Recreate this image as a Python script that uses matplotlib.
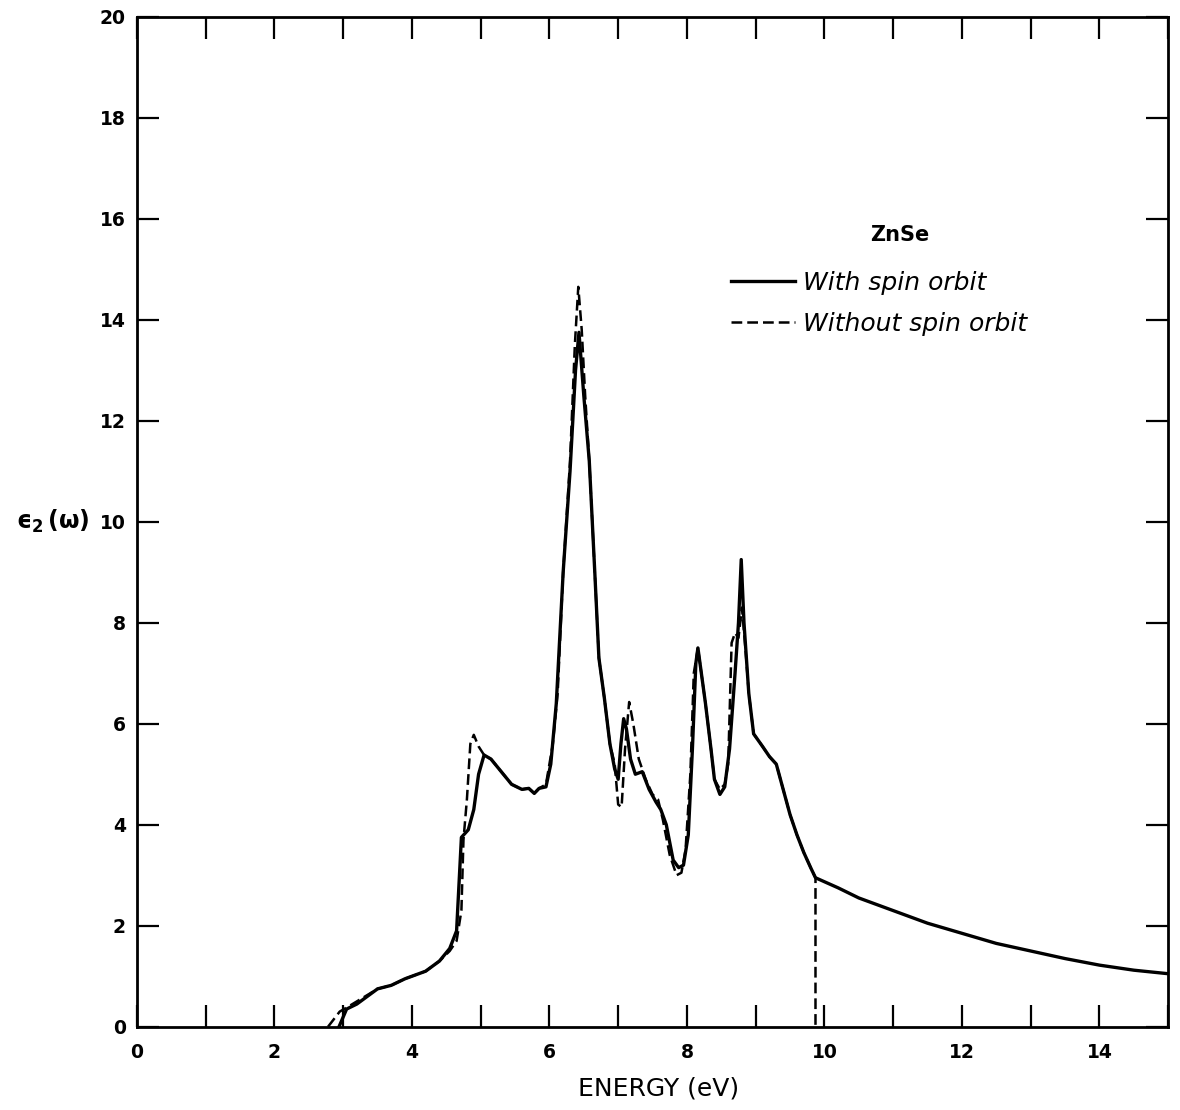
import matplotlib
matplotlib.use("Agg")
import matplotlib.pyplot as plt
from matplotlib.ticker import MultipleLocator, FuncFormatter

# With spin orbit
x_so = [2.94, 3.05, 3.2, 3.5, 3.7, 3.9, 4.2, 4.4, 4.55, 4.65, 4.72, 4.82, 4.9, 4.97,
        5.05, 5.15, 5.3, 5.45, 5.6, 5.7, 5.78, 5.85, 5.95, 6.02, 6.1, 6.2, 6.3, 6.38,
        6.43, 6.5, 6.58, 6.66, 6.72, 6.8, 6.88, 6.95, 7.0, 7.04, 7.08, 7.12, 7.18, 7.25,
        7.35, 7.45, 7.55, 7.62, 7.7, 7.8, 7.88, 7.95, 8.02, 8.08, 8.13, 8.16, 8.2, 8.27,
        8.35, 8.4, 8.48, 8.55, 8.62, 8.7, 8.75, 8.79, 8.83, 8.9, 8.97, 9.1, 9.2, 9.3,
        9.4, 9.5, 9.6, 9.7, 9.8, 9.87, 10.2, 10.5, 11.0, 11.5, 12.0, 12.5, 13.0, 13.5,
        14.0, 14.5, 15.0]
y_so = [0.0, 0.35, 0.45, 0.75, 0.82, 0.95, 1.1, 1.3, 1.55, 1.9, 3.75, 3.9, 4.3, 5.0,
        5.38, 5.3, 5.05, 4.8, 4.7, 4.72, 4.62, 4.72, 4.75, 5.2, 6.4, 9.0, 11.0, 13.0,
        13.75, 12.5, 11.2, 9.0, 7.3, 6.5, 5.6, 5.1, 4.9, 5.6, 6.1, 5.9, 5.3, 5.0,
        5.05, 4.7, 4.45, 4.3, 4.0, 3.3, 3.15, 3.2, 3.8, 5.5, 7.2, 7.5, 7.1, 6.4,
        5.5, 4.9, 4.6, 4.75, 5.5, 7.0, 8.0, 9.25, 8.0, 6.6, 5.8, 5.55, 5.35, 5.2,
        4.7, 4.2, 3.8, 3.45, 3.15, 2.95, 2.75, 2.55, 2.3, 2.05, 1.85, 1.65, 1.5, 1.35,
        1.22, 1.12, 1.05]

# Without spin orbit
x_noso = [2.78, 2.95, 3.1, 3.5, 3.7, 3.9, 4.2, 4.4, 4.55, 4.65, 4.72, 4.75, 4.8, 4.85,
          4.9, 4.97, 5.05, 5.15, 5.3, 5.45, 5.6, 5.7, 5.78, 5.85, 5.95, 6.05, 6.12, 6.2,
          6.3, 6.37, 6.42, 6.47, 6.52, 6.58, 6.66, 6.72, 6.8, 6.88, 6.95, 7.0, 7.05, 7.1,
          7.16, 7.22, 7.3, 7.4, 7.5, 7.58, 7.65, 7.75, 7.85, 7.92, 7.98, 8.05, 8.1, 8.16,
          8.2, 8.27, 8.35, 8.4, 8.48, 8.55, 8.6, 8.65, 8.7, 8.75, 8.8, 8.85, 8.9, 8.97,
          9.1, 9.2, 9.3, 9.4, 9.5, 9.6, 9.7, 9.8, 9.87, 9.87]
y_noso = [0.0, 0.3, 0.42, 0.75, 0.82, 0.95, 1.1, 1.3, 1.5, 1.7, 2.3, 3.7, 4.5, 5.6,
          5.78, 5.55, 5.38, 5.3, 5.05, 4.8, 4.7, 4.72, 4.62, 4.72, 4.8, 5.6, 6.6, 9.0,
          11.2, 13.5, 14.65, 13.8, 12.5, 11.2, 9.0, 7.3, 6.5, 5.6, 5.2, 4.4, 4.35, 5.5,
          6.43, 6.0, 5.3, 4.9, 4.6, 4.5, 4.1, 3.4, 3.0, 3.05, 3.5, 5.0, 7.0, 7.5,
          7.1, 6.4, 5.5, 4.9, 4.7, 4.8, 5.2, 7.6, 7.8, 7.7, 8.3, 7.5, 6.6, 5.8,
          5.55, 5.35, 5.2, 4.7, 4.2, 3.8, 3.45, 3.15, 2.95, 0.0]

series_labels = ["With spin orbit", "Without spin orbit"]

plt.rcParams['font.family'] = ['DejaVu Sans']
plt.rcParams['mathtext.default'] = 'bf'

fig = plt.figure(figsize=(11.8, 11.1), dpi=100)
ax = fig.add_axes([0.116, 0.075, 0.874, 0.910])

ax.plot(x_so, y_so, color='black', lw=2.4, solid_joinstyle='round',
        label=series_labels[0])
ax.plot(x_noso, y_noso, color='black', lw=1.8, dashes=(4.3, 2.0),
        label=series_labels[1])

ax.set_xlim(0, 15)
ax.set_ylim(0, 20)
ax.xaxis.set_major_locator(MultipleLocator(1))
ax.yaxis.set_major_locator(MultipleLocator(2))
ax.xaxis.set_major_formatter(FuncFormatter(lambda v, p: f"{int(round(v))}" if int(round(v)) % 2 == 0 else ""))
ax.yaxis.set_major_formatter(FuncFormatter(lambda v, p: f"{int(round(v))}"))

ax.tick_params(axis='both', which='major', direction='in', length=16, width=1.6,
               top=True, right=True, labelsize=13.5)
ax.tick_params(axis='x', pad=12)
ax.tick_params(axis='y', pad=8)
for lab in ax.get_xticklabels() + ax.get_yticklabels():
    lab.set_fontweight('bold')
for s in ax.spines.values():
    s.set_linewidth(2.0)

ax.set_xlabel("ENERGY (eV)", fontsize=18)
ax.xaxis.set_label_coords(0.506, -0.049)
ax.text(-0.117, 0.5, "$\u03f5_2\\,(\\omega)$", transform=ax.transAxes,
        fontsize=17, ha='left', va='center')

ax.text(11.1, 15.68, "ZnSe", fontsize=15, fontweight='bold', ha='center', va='center')

leg = ax.legend(loc='upper left', bbox_to_anchor=(0.576, 0.7485), frameon=False,
                handlelength=2.56, handletextpad=0.32, borderpad=0, borderaxespad=0,
                labelspacing=0.7, prop={'size': 18, 'style': 'italic'})

fig.savefig("out.png", dpi=100)
